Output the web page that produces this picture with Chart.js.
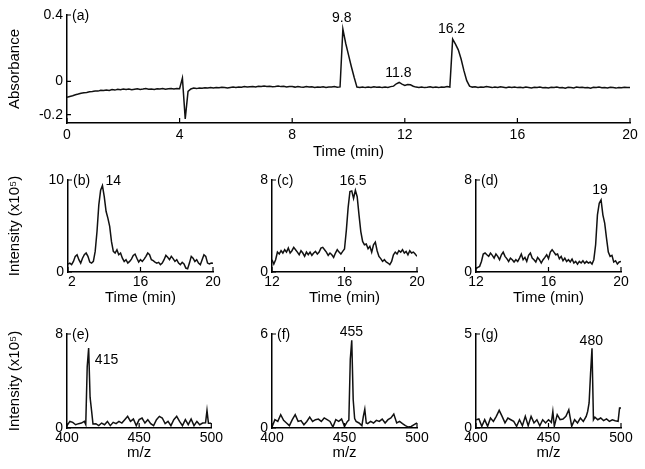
<!DOCTYPE html>
<html>
<head>
<meta charset="utf-8">
<script src="https://cdn.jsdelivr.net/npm/chart.js@4.4.0/dist/chart.umd.min.js"></script>
<style>
  body { margin: 0; background: #fff; }
  #wrap { position: relative; width: 645px; height: 469px; background: #fff; }
  #wrap canvas { position: absolute; }
</style>
</head>
<body>
<div id="wrap">
  <canvas id="chartA"></canvas>
  <canvas id="chartB"></canvas>
  <canvas id="chartC"></canvas>
  <canvas id="chartD"></canvas>
  <canvas id="chartE"></canvas>
  <canvas id="chartF"></canvas>
  <canvas id="chartG"></canvas>
</div>
<script>
// (a) absorbance trace, one value every 0.1 min from 0 to 20
var aStart = 0, aStep = 0.1;
var aAbs = [
  -0.095,-0.09,-0.086,-0.08,-0.076,-0.071,-0.068,-0.066,-0.062,-0.06,
  -0.057,-0.058,-0.053,-0.055,-0.051,-0.054,-0.049,-0.052,-0.047,-0.05,
  -0.046,-0.049,-0.045,-0.05,-0.047,-0.044,-0.048,-0.046,-0.043,-0.047,
  -0.045,-0.048,-0.044,-0.046,-0.042,-0.047,-0.044,-0.043,-0.046,-0.042,
  -0.044,0.02,-0.225,-0.06,-0.045,-0.04,-0.043,-0.039,-0.041,-0.038,
  -0.04,-0.037,-0.039,-0.036,-0.038,-0.035,-0.037,-0.039,-0.036,-0.034,
  -0.036,-0.033,-0.035,-0.031,-0.034,-0.032,-0.03,-0.033,-0.029,-0.031,
  -0.028,-0.031,-0.029,-0.032,-0.03,-0.027,-0.031,-0.029,-0.033,-0.03,
  -0.031,-0.034,-0.03,-0.033,-0.035,-0.031,-0.034,-0.032,-0.036,-0.033,
  -0.035,-0.032,-0.036,-0.033,-0.034,-0.031,-0.035,-0.033,0.315,0.23,
  0.16,0.09,0.025,-0.034,-0.036,-0.033,-0.037,-0.034,-0.036,-0.032,
  -0.035,-0.033,-0.037,-0.034,-0.036,-0.031,-0.028,-0.014,-0.006,-0.016,
  -0.024,-0.019,-0.02,-0.029,-0.034,-0.036,-0.033,-0.037,-0.035,-0.032,
  -0.036,-0.034,-0.037,-0.033,-0.035,-0.031,-0.034,0.255,0.225,0.19,
  0.135,0.065,0.005,-0.028,-0.034,-0.032,-0.036,-0.033,-0.035,-0.031,
  -0.034,-0.037,-0.033,-0.036,-0.032,-0.035,-0.038,-0.034,-0.036,-0.033,
  -0.037,-0.035,-0.038,-0.034,-0.036,-0.039,-0.035,-0.037,-0.034,-0.038,
  -0.036,-0.039,-0.035,-0.037,-0.034,-0.038,-0.036,-0.04,-0.035,-0.037,
  -0.039,-0.034,-0.037,-0.035,-0.038,-0.036,-0.04,-0.035,-0.037,-0.034,
  -0.038,-0.036,-0.039,-0.035,-0.037,-0.04,-0.036,-0.038,-0.035,-0.037,
  -0.036
];

// (b)(c)(d) ion chromatograms, every 0.1 min from 12 to 20 (x10^5)
var tStart = 12, tStep = 0.1;
var bInt = [
  0.87,0.97,0.8,1.15,1.7,1.88,1.34,0.97,1.5,1.88,
  2.06,1.7,1.08,0.97,1.15,2.24,4.4,7.3,8.9,9.4,
  8.2,6.6,5.85,4.95,3.3,2.24,2.06,2.42,1.88,2.06,
  1.5,1.15,1.34,0.97,1.15,1.4,1.8,1.95,1.5,1.08,
  1.34,1.15,1.4,1.7,2.06,1.88,1.34,1.23,1.08,0.97,
  1.05,0.8,0.97,1.34,1.8,1.6,1.34,1.7,1.45,1.15,
  1.34,0.97,0.8,1.05,0.87,0.43,0.36,0.97,1.7,1.5,
  1.15,1.34,0.97,0.8,1.34,1.88,1.7,0.97,0.87,0.97,
  0.94
];
var cInt = [
  1.07,0.69,1.07,1.73,1.56,1.85,1.65,1.94,1.73,2.08,
  1.65,1.85,2.14,1.94,1.73,1.5,1.85,1.65,1.36,1.73,
  1.5,1.73,1.45,1.65,1.79,1.56,1.73,2.08,2.14,1.94,
  1.73,1.45,1.65,1.5,1.27,1.65,1.94,1.73,1.56,1.79,
  2.0,3.6,5.6,7.0,7.05,6.4,7.1,6.55,4.97,3.52,
  2.66,2.37,2.43,2.02,2.23,1.73,2.37,2.6,1.85,1.36,
  1.16,0.92,1.07,0.87,0.78,0.64,0.92,1.5,1.73,1.56,
  1.85,1.73,1.94,1.65,1.79,1.5,1.85,1.65,1.73,1.56,
  1.36
];
var dInt = [
  0.29,0.4,0.49,0.92,1.56,1.65,1.5,1.36,1.65,1.45,
  1.21,1.56,1.36,1.07,1.5,1.73,1.36,1.16,0.92,1.21,
  1.07,0.87,1.07,0.92,1.21,1.56,1.07,1.27,0.92,1.45,
  1.65,1.21,1.07,0.87,1.27,1.07,0.78,1.07,1.27,1.5,
  1.16,1.73,1.94,1.73,1.5,1.56,1.16,1.36,0.98,1.21,
  0.92,1.07,0.87,1.13,0.78,0.92,0.69,0.92,0.78,0.98,
  0.75,0.92,0.78,0.87,0.69,1.07,2.37,4.97,5.98,6.27,
  4.97,4.25,2.95,1.73,1.36,1.45,0.87,0.98,0.69,0.87,
  0.92
];

// (e)(f)(g) mass spectra (x10^5)
var eMz = [400,402,404,406,408,410,412,413,414,415,416,417,418,420,422,424,426,428,430,432,434,436,438,440,442,444,446,448,450,452,454,456,458,460,462,464,466,468,470,472,474,476,478,480,482,484,486,488,490,492,494,496,497,498,500];
var eInt = [0.2,0.56,0.48,0.28,0.37,0.42,0.56,0.3,5.2,6.8,2.6,1.5,0.35,0.37,0.2,0.42,0.28,0.56,0.2,0.48,0.37,0.56,0.42,0.71,0.99,0.56,0.76,0.2,0.71,0.85,0.42,0.71,0.37,0.2,0.71,0.99,0.85,0.37,0.56,0.2,0.71,0.99,0.56,0.2,0.71,0.28,0.76,0.2,0.56,0.28,0.42,0.45,1.5,0.4,0.4];
var fMz = [400,402,404,406,408,410,412,414,416,418,420,422,424,426,428,430,432,434,436,438,440,442,444,446,448,450,452,453,454,455,456,457,458,460,462,463,464,465,466,468,470,472,474,476,478,480,482,484,486,488,490,492,494,496,498,500];
var fInt = [0.06,0.53,0.42,0.85,0.49,0.32,0.15,0.53,0.85,0.42,0.47,0.21,0.42,0.7,0.42,0.53,0.57,0.42,0.64,0.53,0.42,0.06,0.53,0.42,0.57,0.1,0.42,0.5,4.4,5.6,1.8,0.6,0.42,0.32,0.15,0.74,1.2,0.32,0.28,0.42,0.32,0.49,0.42,0.57,0.32,0.53,0.64,0.89,0.32,0.42,0.28,0.15,0.06,0.1,0.21,0.32];
var gMz = [400,402,404,406,408,410,412,414,416,418,420,422,424,426,428,430,432,434,436,438,440,442,444,446,448,450,452,453,454,456,458,460,462,464,466,468,470,472,474,476,477,478,479,480,481,482,484,486,488,490,492,494,496,498,499,500];
var gInt = [0.44,0.48,0.09,0.44,0.09,0.53,0.35,0.62,0.94,0.62,0.27,0.53,0.44,0.35,0.09,0.44,0.12,0.62,0.12,0.62,0.27,0.44,0.12,0.44,0.27,0.44,0.3,0.88,0.09,0.71,0.44,0.48,0.62,0.97,0.09,0.44,0.27,0.53,0.35,0.62,0.88,1.33,2.9,4.24,0.44,0.58,0.44,0.53,0.39,0.48,0.35,0.44,0.39,0.35,1.06,1.06];

// ticks
var aXTicks = [0, 4, 8, 12, 16, 20];
var aYTicks = [-0.2, 0, 0.4];
var timeTicks = [12, 16, 20];
var bXTickLabels = ['\u20072', '16', '20'];
var mzTicks = [400, 450, 500];
var bYTicks = [0, 10], cYTicks = [0, 8], dYTicks = [0, 8];
var eYTicks = [0, 8], fYTicks = [0, 6], gYTicks = [0, 5];

// peak labels (data coords)
var aNotes = [{ text: '9.8', x: 9.76, y: 0.38 }, { text: '11.8', x: 11.77, y: 0.053 }, { text: '16.2', x: 13.66, y: 0.316 }];
var bNotes = [{ text: '14', x: 14.5, y: 9.9 }];
var cNotes = [{ text: '16.5', x: 16.47, y: 7.9 }];
var dNotes = [{ text: '19', x: 18.84, y: 7.1 }];
var eNotes = [{ text: '415', x: 427.4, y: 5.8 }];
var fNotes = [{ text: '455', x: 454.7, y: 6.15 }];
var gNotes = [{ text: '480', x: 479.5, y: 4.64 }];

var FONT = '"Liberation Sans", Arial, sans-serif';
Chart.defaults.font.family = FONT;

function timeBase(start, step, n) {
  var out = [];
  for (var i = 0; i < n; i++) out.push(+(start + i * step).toFixed(2));
  return out;
}

function toPoints(xs, ys) {
  return ys.map(function (v, i) { return { x: xs[i], y: v }; });
}

function decor(p) {
  return {
    id: 'decor',
    afterDraw: function (chart) {
      var ctx = chart.ctx, area = chart.chartArea;
      var xs = chart.scales.x, ys = chart.scales.y;
      ctx.save();
      ctx.strokeStyle = '#000';
      ctx.lineWidth = 1.2;
      ctx.beginPath();
      xs.ticks.forEach(function (t) {
        var px = xs.getPixelForValue(t.value);
        ctx.moveTo(px, area.bottom);
        ctx.lineTo(px, area.bottom - 5);
      });
      ys.ticks.forEach(function (t) {
        var py = ys.getPixelForValue(t.value);
        ctx.moveTo(area.left, py);
        ctx.lineTo(area.left + 4, py);
      });
      ctx.stroke();
      ctx.fillStyle = '#000';
      ctx.font = '14px ' + FONT;
      ctx.textBaseline = 'middle';
      ctx.textAlign = 'left';
      ctx.fillText(p.tag, area.left + 5, area.top + 1);
      ctx.textAlign = 'center';
      p.notes.forEach(function (n) {
        ctx.fillText(n.text, xs.getPixelForValue(n.x), ys.getPixelForValue(n.y));
      });
      ctx.restore();
    }
  };
}

function makePanel(id, p) {
  var cv = document.getElementById(id);
  cv.width = p.box[2];
  cv.height = p.box[3];
  cv.style.left = p.box[0] + 'px';
  cv.style.top = p.box[1] + 'px';
  cv.style.width = p.box[2] + 'px';
  cv.style.height = p.box[3] + 'px';

  return new Chart(cv, {
    type: 'line',
    data: {
      datasets: [{
        data: p.points,
        borderColor: '#111',
        borderWidth: 1.5,
        pointRadius: 0,
        tension: 0,
        fill: false
      }]
    },
    options: {
      responsive: false,
      animation: false,
      layout: { padding: { top: p.padTop, right: p.padRight, left: 0, bottom: 0 } },
      plugins: { legend: { display: false }, tooltip: { enabled: false } },
      scales: {
        x: {
          type: 'linear',
          min: p.xMin,
          max: p.xMax,
          grid: { display: false, drawTicks: false },
          border: { color: '#000', width: 1.5 },
          afterBuildTicks: function (s) { s.ticks = p.xTicks.map(function (v) { return { value: v }; }); },
          afterFit: function (s) { s.height = p.xHeight; },
          ticks: {
            color: '#000',
            font: { size: 14 },
            padding: p.tickPad,
            maxRotation: 0,
            autoSkip: false,
            callback: function (v, i) { return p.xLabels ? p.xLabels[i] : String(v); }
          },
          title: { display: true, text: p.xTitle, color: '#000', font: { size: 15 }, padding: { top: 0, bottom: 1 } }
        },
        y: {
          min: p.yMin,
          max: p.yMax,
          grid: { display: false, drawTicks: false },
          border: { color: '#000', width: 1.5 },
          afterBuildTicks: function (s) { s.ticks = p.yTicks.map(function (v) { return { value: v }; }); },
          afterFit: function (s) { s.width = p.yWidth; },
          ticks: { color: '#000', font: { size: 14 }, padding: 4, autoSkip: false, callback: function (v) { return String(v); } },
          title: { display: !!p.yTitle, text: p.yTitle || '', color: '#000', font: { size: 15 }, padding: { top: 6, bottom: 0 } }
        }
      }
    },
    plugins: [decor(p)]
  });
}

var tB = timeBase(tStart, tStep, bInt.length);

makePanel('chartA', {
  box: [0, 0, 645, 162], padTop: 15, padRight: 15, yWidth: 67, xHeight: 39, tickPad: 4,
  points: toPoints(timeBase(aStart, aStep, aAbs.length), aAbs),
  xMin: 0, xMax: 20, xTicks: aXTicks, xTitle: 'Time (min)',
  yMin: -0.25, yMax: 0.4, yTicks: aYTicks, yTitle: 'Absorbance',
  tag: '(a)', notes: aNotes
});
makePanel('chartB', {
  box: [0, 165, 225, 143], padTop: 15, padRight: 12, yWidth: 68, xHeight: 36, tickPad: 2,
  points: toPoints(tB, bInt),
  xMin: 12, xMax: 20, xTicks: timeTicks, xLabels: bXTickLabels, xTitle: 'Time (min)',
  yMin: 0, yMax: 10, yTicks: bYTicks, yTitle: 'Intensity (x10\u2075)',
  tag: '(b)', notes: bNotes
});
makePanel('chartC', {
  box: [232, 165, 200, 143], padTop: 15, padRight: 15, yWidth: 40, xHeight: 36, tickPad: 2,
  points: toPoints(tB, cInt),
  xMin: 12, xMax: 20, xTicks: timeTicks, xTitle: 'Time (min)',
  yMin: 0, yMax: 8, yTicks: cYTicks,
  tag: '(c)', notes: cNotes
});
makePanel('chartD', {
  box: [436, 165, 200, 143], padTop: 15, padRight: 15, yWidth: 40, xHeight: 36, tickPad: 2,
  points: toPoints(tB, dInt),
  xMin: 12, xMax: 20, xTicks: timeTicks, xTitle: 'Time (min)',
  yMin: 0, yMax: 8, yTicks: dYTicks,
  tag: '(d)', notes: dNotes
});
makePanel('chartE', {
  box: [0, 319, 225, 144], padTop: 15, padRight: 12, yWidth: 67, xHeight: 35, tickPad: 2,
  points: toPoints(eMz, eInt),
  xMin: 400, xMax: 500, xTicks: mzTicks, xTitle: 'm/z',
  yMin: 0, yMax: 8, yTicks: eYTicks, yTitle: 'Intensity (x10\u2075)',
  tag: '(e)', notes: eNotes
});
makePanel('chartF', {
  box: [232, 319, 200, 144], padTop: 15, padRight: 15, yWidth: 40, xHeight: 35, tickPad: 2,
  points: toPoints(fMz, fInt),
  xMin: 400, xMax: 500, xTicks: mzTicks, xTitle: 'm/z',
  yMin: 0, yMax: 6, yTicks: fYTicks,
  tag: '(f)', notes: fNotes
});
makePanel('chartG', {
  box: [436, 319, 200, 144], padTop: 15, padRight: 15, yWidth: 40, xHeight: 35, tickPad: 2,
  points: toPoints(gMz, gInt),
  xMin: 400, xMax: 500, xTicks: mzTicks, xTitle: 'm/z',
  yMin: 0, yMax: 5, yTicks: gYTicks,
  tag: '(g)', notes: gNotes
});
</script>
</body>
</html>
